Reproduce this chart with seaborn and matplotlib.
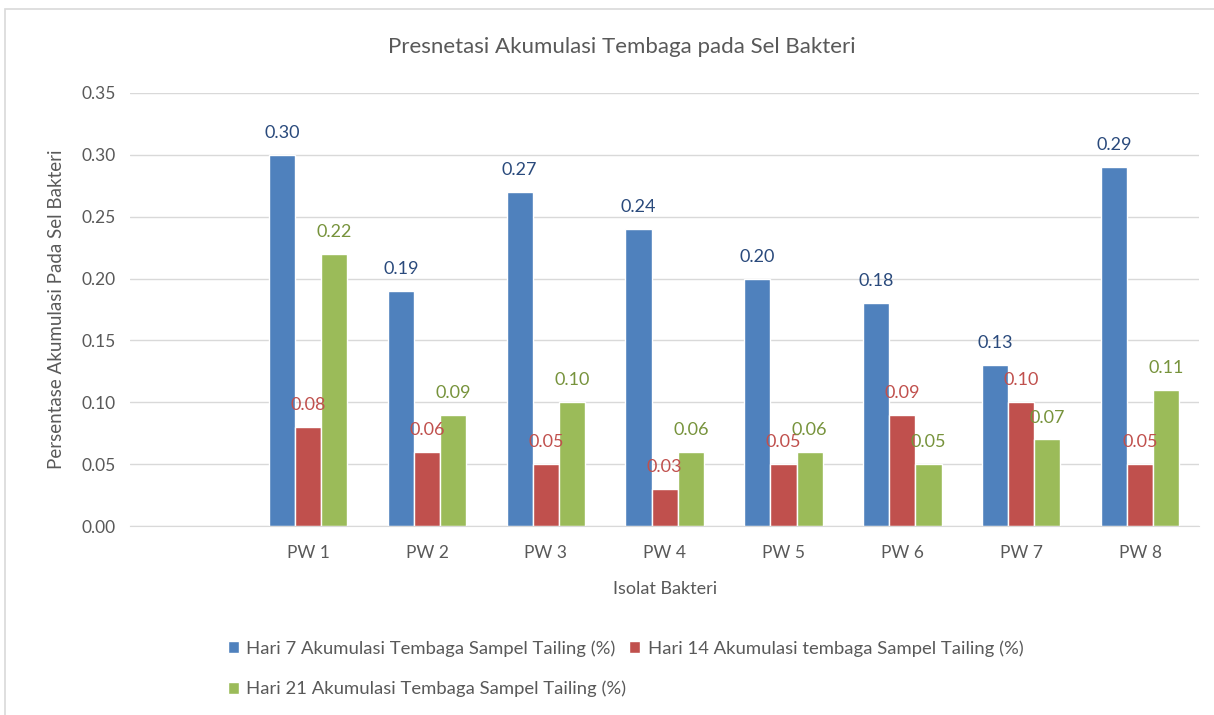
import pandas as pd
import numpy as np
import matplotlib
matplotlib.use("Agg")
import matplotlib.pyplot as plt
from matplotlib.patches import Rectangle
import seaborn as sns

# data
isolat = ["", "PW 1", "PW 2", "PW 3", "PW 4", "PW 5", "PW 6", "PW 7", "PW 8"]
hari_7 = [np.nan, 0.30, 0.19, 0.27, 0.24, 0.20, 0.18, 0.13, 0.29]
hari_14 = [np.nan, 0.08, 0.06, 0.05, 0.03, 0.05, 0.09, 0.10, 0.05]
hari_21 = [np.nan, 0.22, 0.09, 0.10, 0.06, 0.06, 0.05, 0.07, 0.11]
series = [
    "Hari 7 Akumulasi Tembaga Sampel Tailing (%)",
    "Hari 14 Akumulasi tembaga Sampel Tailing (%)",
    "Hari 21 Akumulasi Tembaga Sampel Tailing (%)",
]
bar_colors = ["#4F81BD", "#C0504D", "#9BBB59"]
label_colors = ["#2A4A7C", "#C0504D", "#77933C"]

rows = []
for name, vals in zip(series, [hari_7, hari_14, hari_21]):
    for cat, v in zip(isolat, vals):
        rows.append({"isolat": cat, "seri": name, "nilai": v})
df = pd.DataFrame(rows)

sns.set_style("white")
plt.rcParams["font.family"] = ["Lato", "DejaVu Sans"]

fig = plt.figure(figsize=(12.14, 7.15), dpi=100)
ax = fig.add_axes([0.107, 0.2643, 0.881, 0.6057])

sns.barplot(data=df, x="isolat", y="nilai", hue="seri", order=isolat,
            hue_order=series, palette=bar_colors, width=0.66, saturation=1,
            errorbar=None, ax=ax, legend=True)

# data labels above each bar
for cont, col in zip(ax.containers, label_colors):
    labels = ["" if np.isnan(v) else f"{v:.2f}" for v in cont.datavalues]
    ax.bar_label(cont, labels=labels, padding=10, color=col, fontsize=13)

ax.set_ylim(0, 0.35)
ax.set_yticks(np.arange(0, 0.351, 0.05))
ax.yaxis.set_major_formatter(matplotlib.ticker.FormatStrFormatter("%.2f"))
ax.set_xlim(-0.5, len(isolat) - 0.5)
ax.grid(axis="y", color="#D9D9D9", linewidth=1)
ax.set_axisbelow(True)
for s in ["top", "right", "left"]:
    ax.spines[s].set_visible(False)
ax.spines["bottom"].set_color("#D9D9D9")
ax.tick_params(axis="both", length=0, colors="#595959", labelsize=12.5, pad=10)
ax.tick_params(axis="x", pad=14)

ax.set_xlabel("Isolat Bakteri", fontsize=13, color="#595959", labelpad=14)
ax.set_ylabel("Persentase Akumulasi Pada Sel Bakteri", fontsize=13.5,
              color="#595959", labelpad=12)
fig.text(0.512, 0.934, "Presnetasi Akumulasi Tembaga pada Sel Bakteri",
         ha="center", va="center", fontsize=16, color="#595959")

# legend: row 1 = day 7, day 14; row 2 = day 21 (columns fill top-down)
handles, labels = ax.get_legend_handles_labels()
ax.get_legend().remove()
order = [0, 2, 1]
fig.legend([handles[i] for i in order], [labels[i] for i in order],
           ncol=2, loc="upper left", bbox_to_anchor=(0.174, 0.128),
           frameon=False, fontsize=13.3, handlelength=0.6, handleheight=0.6,
           handletextpad=0.4, columnspacing=0.15, labelcolor="#595959",
           labelspacing=1.3)

fig.patches.append(Rectangle((0.004, -0.01), 1.0, 0.997,
                             transform=fig.transFigure, fill=False,
                             edgecolor="#D9D9D9", linewidth=1.2))

fig.savefig("out.png", dpi=100)
